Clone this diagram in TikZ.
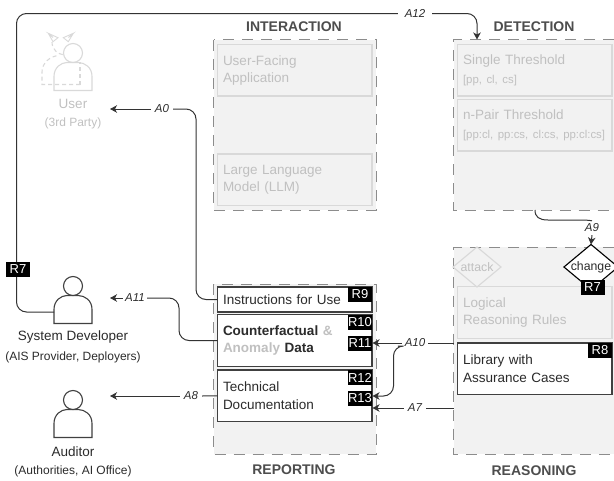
\documentclass[tikz,border=0pt]{standalone}
\usepackage{fontspec}
\setmainfont{Liberation Sans}
\usetikzlibrary{arrows.meta,shapes.geometric}
\definecolor{panelfill}{HTML}{F2F2F2}
\definecolor{panelline}{HTML}{8C8C8C}
\definecolor{ghostline}{HTML}{D9D9D9}
\definecolor{ghosttext}{HTML}{C0C0C0}
\definecolor{inktext}{HTML}{2B2B2B}
\definecolor{titletext}{HTML}{4D4D4D}
\tikzset{
  panel/.style={fill=panelfill,draw=none,minimum width=#1,inner sep=0pt,outer sep=0pt},
  panelborder/.style={draw=panelline,line width=1pt,dash pattern=on 11pt off 8pt},
  boxbase/.style={align=left,text width=143.5pt,minimum width=154.5pt,minimum height=51.5pt,inner sep=0pt,outer sep=0pt,font=\fontsize{13.5}{17.3}\selectfont},
  livebox/.style={boxbase,draw=black!75,fill=white,line width=1.1pt,text=inktext},
  ghostbox/.style={boxbase,draw=ghostline,fill=panelfill,line width=1.1pt,text=ghosttext},
  badge/.style={fill=black,text=white,inner sep=0pt,outer sep=0pt,minimum width=24pt,minimum height=15pt,font=\fontsize{13}{13}\selectfont},
  ghostdiamond/.style={diamond,draw=ghostline,line width=1.1pt,text=ghosttext,aspect=1.2,inner sep=0pt,outer sep=0pt,minimum width=48pt,minimum height=40pt,font=\fontsize{12.3}{12}\selectfont},
  livediamond/.style={diamond,draw=black,fill=white,line width=1.1pt,text=inktext,aspect=1.2,inner sep=0pt,outer sep=0pt,minimum width=48pt,minimum height=40pt,font=\fontsize{12.3}{12}\selectfont},
  paneltitle/.style={text=titletext,font=\bfseries\fontsize{14}{14}\selectfont,inner sep=0pt},
  actorname/.style={inner sep=0pt,font=\fontsize{13.5}{14}\selectfont,text=inktext},
  actornote/.style={inner sep=0pt,font=\fontsize{12}{12}\selectfont,text=inktext},
  edgelabel/.style={inner sep=0pt,font=\itshape\fontsize{11.5}{12}\selectfont,text=inktext,minimum width=22pt,minimum height=12pt},
  conn/.style={draw=black!80,line width=1pt,rounded corners=10pt},
  arrowconn/.style={conn,-{Stealth[length=7pt,width=7.5pt,inset=2pt]}},
  person/.style={draw=black!75,line width=1.1pt,fill=white},
  ghostperson/.style={draw=ghostline,line width=1.1pt},
}
\newcommand{\actorshape}[3]{%
  \draw[#1] (54,#2+28) -- (54,#2+14) .. controls (54,#2+5) and (61,#2+0) .. (67,#2+0) -- (78,#2+0) .. controls (85,#2+0) and (92,#2+5) .. (92,#2+14) -- (92,#2+28) -- cycle;
  \node[#1,circle,minimum size=19pt,inner sep=0pt,outer sep=0pt] (#3) at (73,#2-9.5) {};
}
\begin{document}
\begin{tikzpicture}[x=1pt,y=-1pt]
\useasboundingbox (0,0) rectangle (614,480);
% panels
\node[panel=162.5pt,minimum height=170.5pt] (interaction) at (294.75,125) {};
\node[panel=160.5pt,minimum height=170.5pt] (detection) at (533.75,125) {};
\node[panel=162.5pt,minimum height=170pt] (reporting) at (294.75,369) {};
\node[panel=160.5pt,minimum height=207pt] (reasoning) at (533.75,350.5) {};
\draw[panelborder] (interaction.north west) rectangle (interaction.south east);
\draw[panelborder] (reporting.north west) rectangle (reporting.south east);
\draw[panelborder] (detection.north east) -- (detection.north west) -- (detection.south west) -- (detection.south east);
\draw[panelborder] (reasoning.north east) -- (reasoning.north west) -- (reasoning.south west) -- (reasoning.south east);
% titles
\node[paneltitle] (t1) at (294,27) {INTERACTION};
\node[paneltitle] (t2) at (534,27) {DETECTION};
\node[paneltitle] (t3) at (294,469.5) {REPORTING};
\node[paneltitle] (t4) at (534,471) {REASONING};
% boxes
\node[ghostbox] (app) at (294.75,70.25) {User-Facing\\Application};
\node[ghostbox] (llm) at (294.75,179.75) {Large Language\\Model (LLM)};
\node[ghostbox] (single) at (534.75,70.25) {Single Threshold\\[1pt]{\fontsize{11.4}{12}\selectfont [pp, cl, cs]}};
\node[ghostbox] (npair) at (534.75,125.25) {n-Pair Threshold\\[1pt]{\fontsize{11.4}{12}\selectfont [pp:cl, pp:cs, cl:cs, pp:cl:cs]}};
\node[ghostbox] (rules) at (534.75,312.5) {Logical\\Reasoning Rules};
\node[livebox] (library) at (534.75,368.75) {Library with\\Assurance Cases};
\node[livebox,minimum height=25pt] (instr) at (294.75,299.5) {Instructions for Use};
\node[livebox] (counter) at (294.75,340.5) {\textbf{Counterfactual} \textcolor{ghosttext}{\textbf{\&}}\\\textcolor{ghosttext}{\textbf{Anomaly}} \textbf{Data}};
\node[livebox] (techdoc) at (294.75,395.75) {Technical\\Documentation};
% diamonds
\node[ghostdiamond] (attack) at (477,267) {attack};
\node[livediamond] (change) at (591,267) {change};
% badges
\node[badge] (r9) at (360,294.5) {R9};
\node[badge] (r10) at (360,322.5) {R10};
\node[badge] (r11) at (360,343.5) {R11};
\node[badge] (r12) at (360,377.5) {R12};
\node[badge] (r13) at (360,398) {R13};
\node[badge] (r8) at (600,350.5) {R8};
\node[badge] (r7b) at (592.5,287) {R7};
% actors
\draw[ghostperson,dash pattern=on 4pt off 3pt] (80,84.5) -- (42,84.5) -- (42,72) .. controls (42,63) and (50,56) .. (59,55.5);
\draw[ghostperson,dash pattern=on 4pt off 3pt] (80,84.5) -- (80,62);
\draw[ghostperson,dash pattern=on 4pt off 3pt] (52,42) .. controls (52,50) and (58,54) .. (64,55);
\draw[ghostperson,line width=0.9pt] (53,37.5) -- (48.3,33.3) -- (58,37.7) -- (53,41.7) -- (48.3,33.3);
\draw[ghostperson,line width=0.9pt] (68.5,37.5) -- (73.3,33.3) -- (63.3,37.7) -- (68.3,41.7) -- (73.3,33.3);
\actorshape{ghostperson}{62.5}{userhead}
\actorshape{person}{295.5}{devhead}
\actorshape{person}{409.5}{audhead}
\node[actorname,text=ghosttext] (user) at (73,104) {User};
\node[actornote,text=ghosttext] (usernote) at (73,123.5) {(3rd Party)};
\node[actorname] (dev) at (73,337) {System Developer};
\node[actornote] (devnote) at (73,357) {(AIS Provider, Deployers)};
\node[actorname] (aud) at (73,452) {Auditor};
\node[actornote] (audnote) at (73,471.5) {(Authorities, AI Office)};
% connector ends and bends
\coordinate (userin) at (110,109);
\coordinate (devin) at (110,298);
\coordinate (audin) at (110,396);
\coordinate (devbody) at (54,312);
\coordinate (a0bend) at (196,109);
\coordinate (a11bend) at (179,298);
\coordinate (a12low) at (16.5,312);
\coordinate (a12high) at (16.5,13.5);
\coordinate (a12right) at (477,13.5);
\coordinate (detin) at (477,39.5);
\coordinate (a9out) at (535,210);
\coordinate (a9c) at (548,220);
\coordinate (a9d) at (575,220);
\coordinate (a10bend) at (393.5,396);
\coordinate (a10top) at (393.5,346);
\coordinate (r11in) at (372.5,343);
\coordinate (r13in) at (372.5,396);
\coordinate (a7in) at (372.5,408);
\coordinate (a7out) at (453.5,408);
\coordinate (a10out) at (453.5,343);
% labels
\node[edgelabel] (a0) at (162,109) {A0};
\node[edgelabel,minimum width=24pt] (a11) at (135,298) {A11};
\node[edgelabel] (a8) at (191,396) {A8};
\node[edgelabel,minimum width=34pt] (a12) at (415,13.5) {A12};
\node[edgelabel,minimum height=14pt] (a9) at (592,228) {A9};
\node[edgelabel,minimum width=26pt] (a10) at (415,343) {A10};
\node[edgelabel] (a7) at (415,408) {A7};
% connectors
\draw[conn] (instr.west) -| (a0bend) -- (a0.east);
\draw[arrowconn] (a0.west) -- (userin);
\draw[conn] (counter.west) -| (a11bend) -- (a11.east);
\draw[arrowconn] (a11.west) -- (devin);
\draw[conn] (techdoc.west) -- (a8.east);
\draw[arrowconn] (a8.west) -- (audin);
\draw[conn] (devbody) -- (a12low) -- (a12high) -- (a12.west);
\draw[arrowconn] (a12.east) -- (a12right) -- (detin);
\draw[conn,rounded corners=0pt] (a9out) .. controls (535,217) and (539,220) .. (a9c) -- (a9d) .. controls (583,220) and (588,220) .. (a9.north);
\draw[arrowconn,rounded corners=0pt] (a9.south) -- (change.north);
\draw[conn] (a10out) -- (a10.east);
\draw[arrowconn] (a10.west) -- (r11in);
\draw[arrowconn,rounded corners=10pt] (a10.west) ++(-4,3) -- (a10top) -- (a10bend) -- (r13in);
\draw[conn] (a7out) -- (a7.east);
\draw[arrowconn] (a7.west) -- (a7in);
\node[badge] (r7a) at (18,269) {R7};
\end{tikzpicture}
\end{document}
